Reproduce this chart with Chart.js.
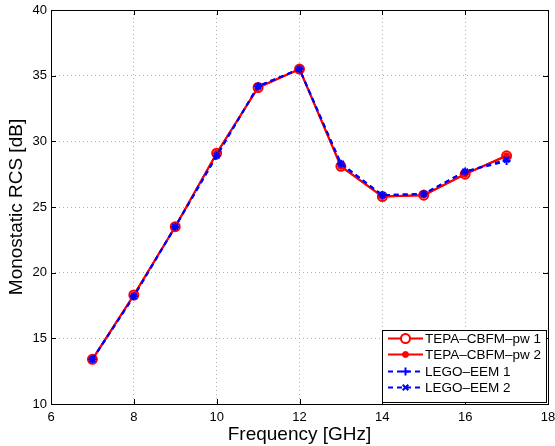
<!DOCTYPE html>
<html>
<head>
<meta charset="utf-8">
<script src="https://cdn.jsdelivr.net/npm/chart.js@4/dist/chart.umd.min.js"></script>
<style>
  html, body { margin: 0; padding: 0; background: #fff; }
  canvas { display: block; }
</style>
</head>
<body>
<canvas id="rcsChart" width="555" height="446"></canvas>
<script>
const freqs = [7, 8, 9, 10, 11, 12, 13, 14, 15, 16, 17];
const tepa1 = [13.4, 18.3, 23.5, 29.1, 34.1, 35.5, 28.1, 25.8, 25.9, 27.5, 28.9];
const tepa2 = [13.4, 18.3, 23.5, 29.1, 34.1, 35.5, 28.1, 25.8, 25.9, 27.5, 28.9];
const lego1 = [13.4, 18.2, 23.5, 28.9, 34.2, 35.5, 28.3, 25.9, 26.0, 27.7, 28.5];
const lego2 = [13.4, 18.2, 23.5, 28.9, 34.2, 35.5, 28.3, 25.9, 26.0, 27.7, 28.6];
const xTicks = [6, 8, 10, 12, 14, 16, 18];
const yTicks = [10, 15, 20, 25, 30, 35, 40];
const seriesNames = ['TEPA\u2013CBFM\u2013pw 1', 'TEPA\u2013CBFM\u2013pw 2', 'LEGO\u2013EEM 1', 'LEGO\u2013EEM 2'];

const FONT = 'Liberation Sans, Arial, Helvetica, sans-serif';

function pts(vals) {
    return freqs.map((f, i) => ({ x: f, y: vals[i] }));
}

// frame box, inner ticks and legend box in MATLAB style
const matlabBox = {
    id: 'matlabBox',
    afterDraw(chart) {
        const ctx = chart.ctx;
        const a = chart.chartArea;
        const xs = chart.scales.x, ys = chart.scales.y;
        ctx.save();
        ctx.strokeStyle = '#000';
        ctx.lineWidth = 1;
        ctx.strokeRect(Math.round(a.left) + 0.5, Math.round(a.top) + 0.5, Math.round(a.right - a.left), Math.round(a.bottom - a.top));
        ctx.beginPath();
        xTicks.forEach(t => {
            const px = Math.round(xs.getPixelForValue(t)) + 0.5;
            ctx.moveTo(px, a.bottom); ctx.lineTo(px, a.bottom - 5);
            ctx.moveTo(px, a.top); ctx.lineTo(px, a.top + 5);
        });
        yTicks.forEach(t => {
            const py = Math.round(ys.getPixelForValue(t)) + 0.5;
            ctx.moveTo(a.left, py); ctx.lineTo(a.left + 5, py);
            ctx.moveTo(a.right, py); ctx.lineTo(a.right - 5, py);
        });
        ctx.stroke();

        // legend
        const bx = 382, by = 330, bw = 164, bh = 72;
        ctx.fillStyle = '#fff';
        ctx.fillRect(bx, by, bw, bh);
        ctx.strokeRect(bx + 0.5, by + 0.5, bw, bh);
        ctx.font = '13.5px ' + FONT;
        ctx.textBaseline = 'middle';
        const rows = [338, 354, 371, 387];
        chart.data.datasets.forEach((ds, di) => {
            const y = rows[di] + 0.5;
            ctx.save();
            ctx.strokeStyle = ds.borderColor;
            ctx.lineWidth = ds.borderWidth;
            ctx.setLineDash(ds.borderDash || []);
            ctx.beginPath();
            ctx.moveTo(388, y); ctx.lineTo(423, y);
            ctx.stroke();
            ctx.restore();
            ctx.save();
            ctx.strokeStyle = ds.pointBorderColor;
            ctx.fillStyle = ds.pointBackgroundColor || ds.pointBorderColor;
            ctx.lineWidth = ds.pointBorderWidth;
            if (ds.pointStyle === 'circle' && ds.pointBackgroundColor === '#ffffff00') {
                ctx.fillStyle = '#fff';
            }
            Chart.helpers.drawPoint(ctx, {
                pointStyle: ds.pointStyle,
                radius: ds.pointRadius,
                borderWidth: ds.pointBorderWidth,
                rotation: 0
            }, 405.5, y);
            ctx.restore();
            ctx.fillStyle = '#000';
            ctx.fillText(seriesNames[di], 425, rows[di] + 1);
        });
        ctx.restore();
    }
};

const chart = new Chart(document.getElementById('rcsChart'), {
    type: 'scatter',
    data: {
        datasets: [
            {
                label: seriesNames[0],
                data: pts(tepa1),
                showLine: true,
                borderColor: '#ff0000',
                backgroundColor: '#ffffff00',
                borderWidth: 2,
                pointStyle: 'circle',
                pointRadius: 4.5,
                pointBorderWidth: 2,
                pointBorderColor: '#ff0000',
                pointBackgroundColor: '#ffffff00',
                order: 4
            },
            {
                label: seriesNames[1],
                data: pts(tepa2),
                showLine: true,
                borderColor: '#ff0000',
                backgroundColor: '#ff0000',
                borderWidth: 2,
                pointStyle: 'circle',
                pointRadius: 3,
                pointBorderWidth: 1,
                pointBorderColor: '#ff0000',
                pointBackgroundColor: '#ff0000',
                order: 3
            },
            {
                label: seriesNames[2],
                data: pts(lego1),
                showLine: true,
                borderColor: '#0000ff',
                backgroundColor: '#0000ff',
                borderWidth: 2,
                borderDash: [5, 4],
                pointStyle: 'cross',
                pointRadius: 4,
                pointBorderWidth: 2,
                pointBorderColor: '#0000ff',
                order: 2
            },
            {
                label: seriesNames[3],
                data: pts(lego2),
                showLine: true,
                borderColor: '#0000ff',
                backgroundColor: '#0000ff',
                borderWidth: 2,
                borderDash: [5, 4],
                pointStyle: 'crossRot',
                pointRadius: 4,
                pointBorderWidth: 2,
                pointBorderColor: '#0000ff',
                order: 1
            }
        ]
    },
    options: {
        responsive: false,
        animation: false,
        events: [],
        layout: { padding: { top: 10, right: 7, left: 5, bottom: 0 } },
        plugins: {
            legend: { display: false },
            tooltip: { enabled: false }
        },
        scales: {
            x: {
                type: 'linear',
                min: 6, max: 18,
                afterBuildTicks: s => { s.ticks = xTicks.map(v => ({ value: v })); },
                afterFit: s => { s.height = 42; s.paddingLeft = 0; s.paddingRight = 0; },
                grid: { color: '#b0b0b0', lineWidth: 1, drawTicks: false },
                border: { display: false, dash: [1, 3] },
                ticks: { color: '#000', font: { family: FONT, size: 13 }, padding: 6, maxRotation: 0, autoSkip: false },
                title: { display: true, text: 'Frequency [GHz]', color: '#000', font: { family: FONT, size: 19 }, padding: { top: 0, bottom: 0 } }
            },
            y: {
                type: 'linear',
                min: 10, max: 40,
                afterBuildTicks: s => { s.ticks = yTicks.map(v => ({ value: v })); },
                afterFit: s => { s.width = 46; s.paddingTop = 0; s.paddingBottom = 0; },
                grid: { color: '#b0b0b0', lineWidth: 1, drawTicks: false },
                border: { display: false, dash: [1, 3] },
                ticks: { color: '#000', font: { family: FONT, size: 13 }, padding: 4, autoSkip: false },
                title: { display: true, text: 'Monostatic RCS [dB]', color: '#000', font: { family: FONT, size: 19 }, padding: { top: 0, bottom: 0 } }
            }
        }
    },
    plugins: [matlabBox]
});
</script>
</body>
</html>
